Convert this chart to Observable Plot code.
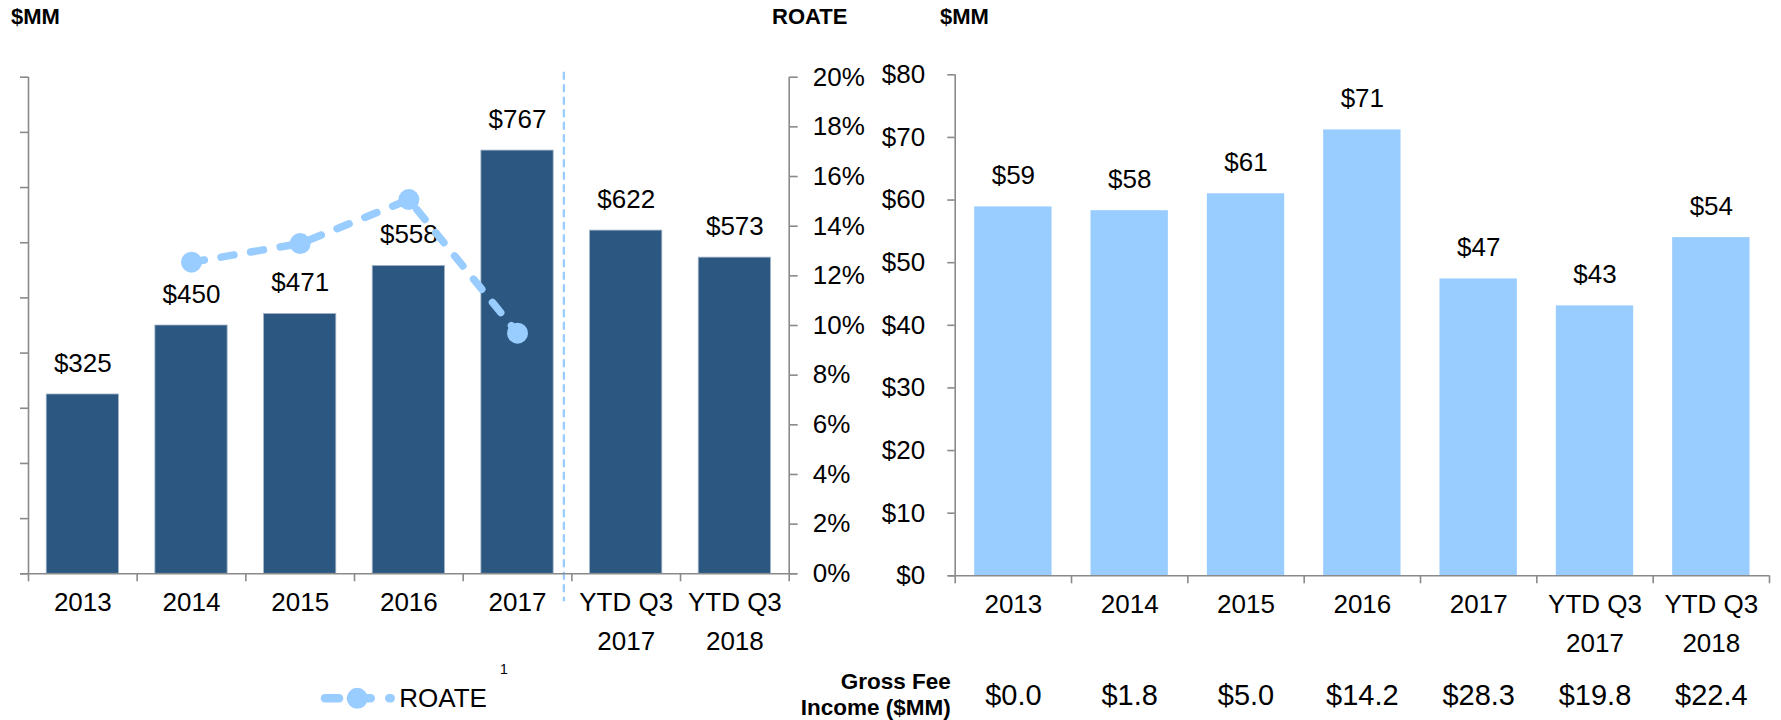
<!DOCTYPE html>
<html><head><meta charset="utf-8">
<script src="https://cdn.jsdelivr.net/npm/d3@7"></script>
<script src="https://cdn.jsdelivr.net/npm/@observablehq/plot@0.6"></script>
<style>
body{margin:0;background:#fff;}
#wrap{position:relative;width:1781px;height:720px;overflow:hidden;font-family:'Liberation Sans',Arial,sans-serif;color:#000;}
.abs{position:absolute;white-space:nowrap;}
.title{font-weight:bold;font-size:22px;line-height:24px;}
.fee{font-weight:bold;font-size:22.5px;line-height:26px;text-align:right;}
</style></head><body>
<div id="wrap">
  <div id="left" class="abs" style="left:0;top:0"></div>
  <div id="right" class="abs" style="left:870px;top:0"></div>
  <div class="abs title" style="left:11px;top:5px">$MM</div>
  <div class="abs title" style="left:772px;top:5px">ROATE</div>
  <div class="abs title" style="left:940px;top:5px">$MM</div>
  <div class="abs fee" style="right:830.3px;top:669.2px">Gross Fee<br>Income ($MM)</div>
  <svg class="abs" style="left:300px;top:655px" width="230" height="60">
    <g stroke="#99CCFF" stroke-width="8.5" stroke-linecap="round">
      <line x1="25" y1="43.3" x2="39" y2="43.3"></line>
      <line x1="51" y1="43.3" x2="70.7" y2="43.3"></line>
      <line x1="89.3" y1="43.3" x2="90.7" y2="43.3"></line>
    </g>
    <circle cx="57.3" cy="43.3" r="10.5" fill="#99CCFF"></circle>
    <text x="99.3" y="51.7" font-size="26" font-family="'Liberation Sans',Arial,sans-serif" fill="#000">ROATE</text>
    <text x="204" y="19" font-size="14" text-anchor="middle" font-family="'Liberation Sans',Arial,sans-serif" fill="#000">1</text>
  </svg>
</div>
<script>
// ---- data ----
const categories = ["2013", "2014", "2015", "2016", "2017", "YTD Q3\n2017", "YTD Q3\n2018"];
const netIncome = [325, 450, 471, 558, 767, 622, 573];
const roateYears = ["2014", "2015", "2016", "2017"];
const roateValues = [12.55, 13.3, 15.07, 9.69];
const feeBars = [58.9, 58.3, 61.0, 71.2, 47.4, 43.1, 54.0];
const grossFee = [0.0, 1.8, 5.0, 14.2, 28.3, 19.8, 22.4];
const leftTicks = d3.range(0, 901, 100);
const roateTicks = d3.range(0, 21, 2);
const rightTicks = d3.range(0, 81, 10);
const dividerAfter = 5; // boundary between 2017 and YTD Q3 2017

// ---- styles ----
const DARK = "#2C5780", LIGHT = "#99CCFF", AXIS = "#8a8a8a";
const FONT = "'Liberation Sans', Arial, sans-serif";
const GAP = 0.335;
const LEFT_MAX = 900, ROATE_MAX = 20, k = LEFT_MAX / ROATE_MAX;
const n = categories.length;

const leftRows = categories.map((c, i) => ({i, label: c, value: netIncome[i]}));
const roateRows = roateYears.map((y, j) => ({i: categories.indexOf(y), roate: roateValues[j]}));
const rightRows = categories.map((c, i) => ({i, label: c, value: feeBars[i], fee: grossFee[i]}));

const axisStyle = {stroke: AXIS, strokeWidth: 1.6, strokeOpacity: 1, label: null};
const catLabel = d => categories[Math.floor(d)];

const left = Plot.plot({
  width: 870, height: 720,
  marginLeft: 28, marginRight: 81.3, marginTop: 76.7, marginBottom: 146.7,
  style: {fontFamily: FONT, fontSize: "26px", color: "#000", background: "transparent", overflow: "visible"},
  x: {type: "linear", domain: [0, n]},
  y: {type: "linear", domain: [0, LEFT_MAX]},
  marks: [
    Plot.rectY(leftRows, {x1: d => d.i + GAP / 2, x2: d => d.i + 1 - GAP / 2, y1: 0, y2: "value", fill: DARK, stroke: "#a3b6ca", strokeWidth: 0.8}),
    Plot.ruleX([dividerAfter], {x: d => d, dx: -8, stroke: LIGHT, strokeWidth: 2.3, strokeDasharray: "8,4.5", insetTop: -5, insetBottom: -28}),
    Plot.ruleX([0, n], {stroke: AXIS, strokeWidth: 1.6}),
    Plot.ruleY([0], {stroke: AXIS, strokeWidth: 1.6, insetLeft: -8, insetRight: -8}),
    Plot.axisY({anchor: "left", ticks: leftTicks, tickSize: 8, tickFormat: () => "", ...axisStyle}),
    Plot.axisY({anchor: "right", ticks: roateTicks.map(t => t * k), tickSize: 8, tickPadding: 15.6,
      tickFormat: d => Math.round(d / k) + "%", fontSize: 26, fill: "#000", ...axisStyle}),
    Plot.axisX({ticks: d3.range(n + 1), tickSize: 8, tickFormat: () => "", ...axisStyle}),
    Plot.axisX({ticks: d3.range(n).map(i => i + 0.5), tickSize: 0, tickPadding: 10, tickFormat: catLabel,
      lineHeight: 1.5, fontSize: 26, fill: "#000", label: null}),
    Plot.text(leftRows, {x: d => d.i + 0.5, y: "value", text: d => "$" + d.value, dy: -31, fontSize: 26, fill: "#000"}),
    Plot.line(roateRows, {x: d => d.i + 0.5, y: d => d.roate * k, stroke: LIGHT, strokeWidth: 7.5, strokeDasharray: "13,17", strokeLinecap: "round"}),
    Plot.dot(roateRows, {x: d => d.i + 0.5, y: d => d.roate * k, r: 10.5, fill: LIGHT, stroke: "none"})
  ]
});
document.getElementById("left").appendChild(left);

const right = Plot.plot({
  width: 911, height: 720,
  marginLeft: 84.7, marginRight: 12, marginTop: 74.3, marginBottom: 144.7,
  style: {fontFamily: FONT, fontSize: "26px", color: "#000", background: "transparent", overflow: "visible"},
  x: {type: "linear", domain: [0, n]},
  y: {type: "linear", domain: [0, 80]},
  marks: [
    Plot.rectY(rightRows, {x1: d => d.i + GAP / 2, x2: d => d.i + 1 - GAP / 2, y1: 0, y2: "value", fill: LIGHT}),
    Plot.ruleX([0], {stroke: AXIS, strokeWidth: 1.6}),
    Plot.ruleY([0], {stroke: AXIS, strokeWidth: 1.6, insetLeft: -6.4}),
    Plot.axisY({anchor: "left", ticks: rightTicks, tickSize: 7.4, tickPadding: 22.7, tickFormat: d => "$" + d,
      fontSize: 26, fill: "#000", ...axisStyle}),
    Plot.axisX({ticks: d3.range(n + 1), tickSize: 8, tickFormat: () => "", ...axisStyle}),
    Plot.axisX({ticks: d3.range(n).map(i => i + 0.5), tickSize: 0, tickPadding: 10, tickFormat: catLabel,
      lineHeight: 1.5, fontSize: 26, fill: "#000", label: null}),
    Plot.text(rightRows, {x: d => d.i + 0.5, y: "value", text: d => "$" + d3.format(".0f")(d.value), dy: -31, fontSize: 26, fill: "#000"}),
    Plot.text(rightRows, {x: d => d.i + 0.5, frameAnchor: "bottom", text: d => "$" + d.fee.toFixed(1), dy: 129, fontSize: 29, fill: "#000"})
  ]
});
document.getElementById("right").appendChild(right);
</script>
</body></html>
